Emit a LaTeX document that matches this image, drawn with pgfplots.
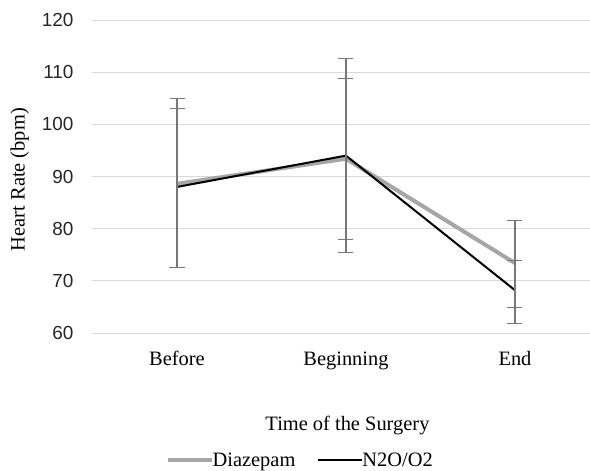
\documentclass[border=0pt]{standalone}
\usepackage{pgfplots}
\pgfplotsset{compat=1.18}
\usepackage{fontspec}
\setmainfont{Liberation Serif}
\newfontfamily\arialf{Liberation Sans}
\definecolor{gridc}{HTML}{D9D9D9}
\definecolor{diaz}{HTML}{A6A6A6}
\definecolor{errc}{HTML}{777777}
\begin{document}
\begin{tikzpicture}
\begin{axis}[
  scale only axis,
  width=498bp, height=313bp,
  xmin=-0.503, xmax=2.444,
  ymin=60, ymax=120,
  ytick={60,70,...,120},
  xtick={0,1,2},
  xticklabels={Before,Beginning,End},
  /pgf/number format/assume math mode=true,
  axis line style={draw=none},
  tick style={draw=none},
  ymajorgrids,
  grid style={gridc, line width=0.9bp},
  yticklabel style={font=\arialf\fontsize{19}{19}\selectfont, xshift=-15bp, text=black!85},
  xticklabel style={font=\fontsize{20.5}{20.5}\selectfont, yshift=-15bp},
  xlabel={Time of the Surgery},
  ylabel={Heart Rate (bpm)},
  every axis x label/.style={at={(axis description cs:0.513,-0.294)}, anchor=center, font=\fontsize{20.5}{20.5}\selectfont},
  every axis y label/.style={at={(axis description cs:-0.145,0.49)}, anchor=center, rotate=90, font=\fontsize{20.5}{20.5}\selectfont},
  legend columns=2,
  legend style={draw=none, fill=none, at={(axis description cs:0.418,-0.406)}, anchor=center, font=\fontsize{20.5}{20.5}\selectfont, /tikz/every even column/.append style={column sep=20bp}, /tikz/every odd column/.append style={column sep=-3bp}},
  legend cell align=left,
  legend image code/.code={\draw[#1] (0cm,0cm) -- (44bp,0cm);},
  clip=false,
]
\addplot[diaz, line width=4bp, error bars/.cd, y dir=both, y explicit,
  error bar style={errc, line width=1.1bp},
  error mark options={errc, rotate=90, mark size=7.5bp, line width=1.1bp}]
  coordinates {
  (0,88.6) += (0,16.3) -= (0,16.1)
  (1,93.4) += (0,19.3) -= (0,18.0)
  (2,73.4) += (0,8.1) -= (0,8.5)
  };
\addlegendentry{Diazepam}
\addplot[black, line width=2bp, error bars/.cd, y dir=both, y explicit,
  error bar style={errc, line width=1.1bp},
  error mark options={errc, rotate=90, mark size=7.5bp, line width=1.1bp}]
  coordinates {
  (0,88.0) += (0,15.1) -= (0,15.5)
  (1,94.0) += (0,14.7) -= (0,16.0)
  (2,68.2) += (0,5.7) -= (0,6.3)
  };
\addlegendentry{N2O/O2}
\coordinate (bl) at (rel axis cs:0,0);
\coordinate (tr) at (rel axis cs:1,1);
\end{axis}
\pgfresetboundingbox
\path ([shift={(-92bp,-138bp)}]bl) rectangle ([shift={(0bp,20bp)}]tr);
\end{tikzpicture}
\end{document}
